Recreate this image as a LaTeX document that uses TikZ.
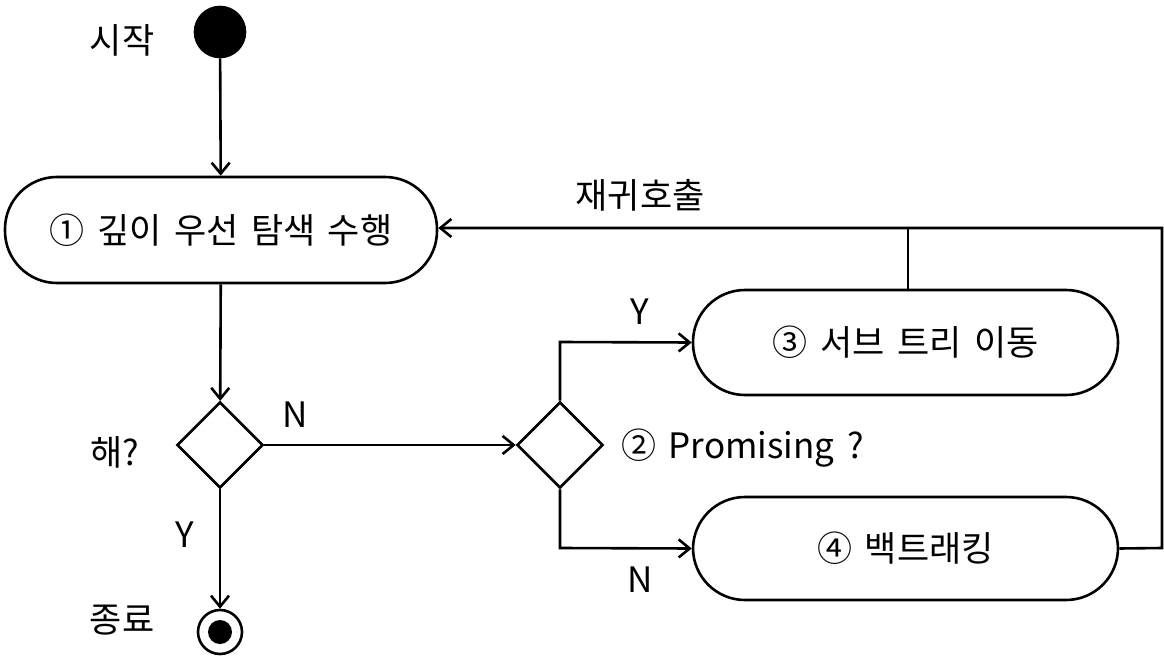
\documentclass[tikz,border=0pt]{standalone}
\usepackage{fontspec}
\setmainfont{Noto Sans CJK KR}[WordSpace=1.6]
\usetikzlibrary{arrows.meta,shapes.geometric}
\begin{document}
\begin{tikzpicture}[x=1pt,y=-1pt,line width=2.6pt,
  font=\fontsize{35}{40}\selectfont,
  arr/.style={-{Straight Barb[length=11pt,width=18pt,line width=2.6pt]}},
  pill/.style={draw,rounded corners=52pt,minimum height=106pt,inner sep=0pt},
  dia/.style={draw,diamond,minimum width=86pt,minimum height=86pt,inner sep=0pt},
  lbl/.style={inner sep=0pt}]
\useasboundingbox (0,0) rectangle (1164,663);
\node[draw,fill=black,circle,minimum size=50pt,inner sep=0pt] (start) at (220,32) {};
\node[lbl] (tstart) at (122,40) {시작};
\node[pill,minimum width=432pt] (b1) at (221,230) {① 깊이 우선 탐색 수행};
\node[dia] (d1) at (220,445) {};
\node[lbl] (th) at (115,452) {해?};
\node[dia] (d2) at (560,445) {};
\node[lbl,anchor=west] (tp) at (620,448) {② Promising ?};
\node[pill,minimum width=425pt,minimum height=105pt] (b3) at (905.5,342.5) {③ 서브 트리 이동};
\node[pill,minimum width=425pt,minimum height=103pt] (b4) at (905.5,548.5) {④ 백트래킹};
\node[draw,circle,minimum size=44pt,inner sep=0pt] (end) at (220,632) {};
\node[fill=black,circle,minimum size=24pt,inner sep=0pt] (endi) at (220,632) {};
\node[lbl] (tend) at (122,620) {종료};
\node[lbl] (ty1) at (185,535) {Y};
\node[lbl] (tn1) at (295,415) {N};
\node[lbl] (ty2) at (640,312) {Y};
\node[lbl] (tn2) at (640,580) {N};
\node[lbl] (tr) at (640,195) {재귀호출};
\coordinate (c1) at (560,342);
\coordinate (c2) at (560,548);
\coordinate (r1) at (1162,548);
\coordinate (r2) at (1162,228);
\coordinate (j) at (908,228);
\draw[arr] (start) -- (b1);
\draw[arr] (b1) -- (d1);
\draw[arr] (d1.east) -- (d2.west);
\draw[arr] (d2.north) -- (c1) -- (b3.west);
\draw[arr] (d2.south) -- (c2) -- (b4.west);
\draw[arr] (b4.east) -- (r1) -- (r2) -- (b1.east |- r2);
\draw (b3.north -| j) -- (j);
\draw[arr] (d1.south) -- (end.north);
\end{tikzpicture}
\end{document}
